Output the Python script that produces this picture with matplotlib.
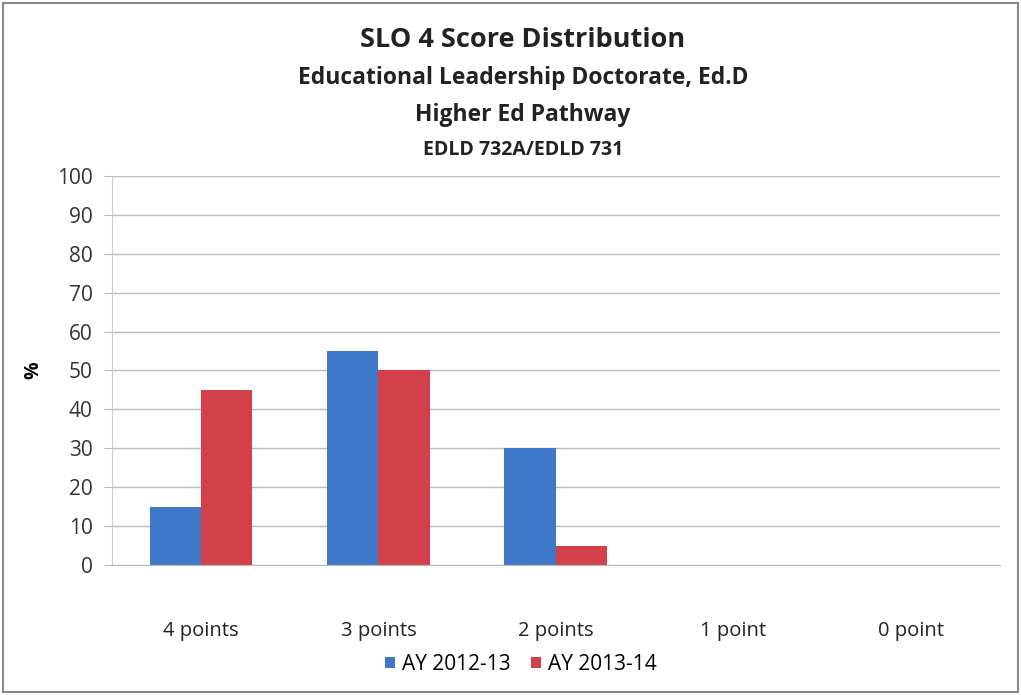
import matplotlib.pyplot as plt
import numpy as np

# data
categories = ['4 points', '3 points', '2 points', '1 point', '0 point']
ay_2012 = [15, 55, 30, 0, 0]
ay_2013 = [45, 50, 5, 0, 0]
series_names = ['AY 2012-13', 'AY 2013-14']

plt.rcParams['font.family'] = ['Open Sans', 'DejaVu Sans']

fig = plt.figure(figsize=(10.21, 6.95), dpi=100)
ax = fig.add_axes([0.110, 0.187, 0.869, 0.560])

x = np.arange(len(categories))
w = 0.29
ax.bar(x - w / 2, ay_2012, w, color='#3F78C8', label=series_names[0])
ax.bar(x + w / 2, ay_2013, w, color='#D2404A', label=series_names[1])

ax.set_xlim(-0.5, len(categories) - 0.5)
ax.set_ylim(0, 100)
ax.set_yticks(range(0, 101, 10))
ax.set_xticks(x)
ax.set_xticklabels(categories)
ax.tick_params(axis='x', length=0, pad=40, labelsize=14.5, colors='#222222')
ax.tick_params(axis='y', length=6, color='#bbbbbb', labelsize=15, colors='#333333', pad=8)
ax.grid(axis='y', color='#bbbbbb', linewidth=1)
ax.set_axisbelow(True)
for s in ['top', 'right']:
    ax.spines[s].set_visible(False)
ax.spines['left'].set_color('#cccccc')
ax.spines['bottom'].set_color('#bbbbbb')
ax.set_ylabel('%', fontsize=14, fontweight='bold', labelpad=10)

fig.text(0.512, 0.942, 'SLO 4 Score Distribution', ha='center', va='center',
         fontsize=19.5, fontweight='bold', color='#222222')
fig.text(0.512, 0.888, 'Educational Leadership Doctorate, Ed.D', ha='center', va='center',
         fontsize=16.5, fontweight='bold', color='#222222')
fig.text(0.512, 0.834, 'Higher Ed Pathway', ha='center', va='center',
         fontsize=16.5, fontweight='bold', color='#222222')
fig.text(0.512, 0.784, 'EDLD 732A/EDLD 731', ha='center', va='center',
         fontsize=14, fontweight='bold', color='#222222')

fig.legend(loc='center', bbox_to_anchor=(0.51, 0.044), ncol=2, frameon=False,
           fontsize=15, handlelength=0.5, handleheight=0.5, handletextpad=0.3,
           columnspacing=1.0)

# outer border of the chart
fig.patches.append(plt.Rectangle((0.003, 0.004), 0.994, 0.992, transform=fig.transFigure,
                                 fill=False, edgecolor='#888888', linewidth=1.5))

fig.savefig('out.png', dpi=100)
